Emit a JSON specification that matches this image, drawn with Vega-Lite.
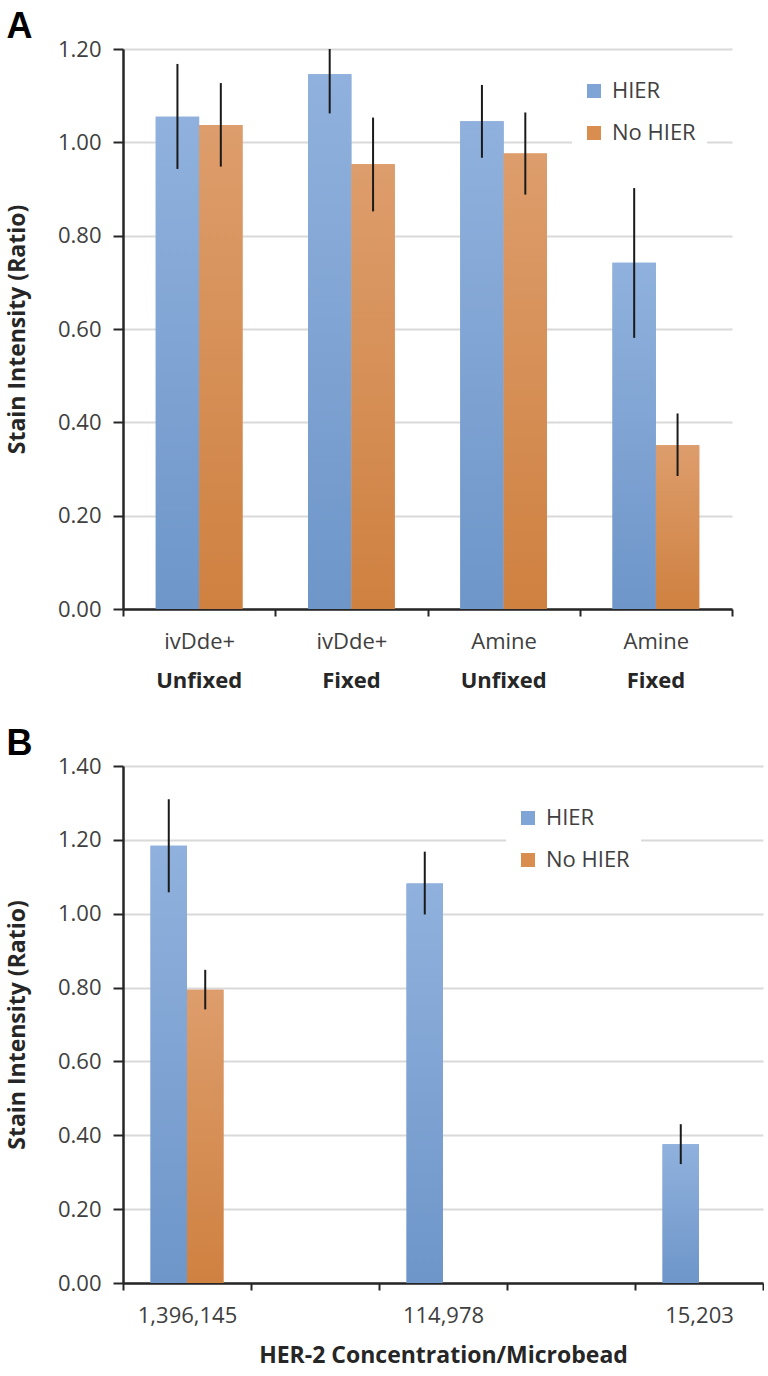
{
  "$schema": "https://vega.github.io/schema/vega-lite/v6.json",
  "background": "white",
  "padding": {"left": 6, "top": 9, "right": 0, "bottom": 0},
  "config": {
    "view": {"stroke": null},
    "font": "Open Sans",
    "axis": {
      "labelFont": "Open Sans", "labelFontSize": 22, "labelColor": "#404040",
      "titleFont": "Open Sans", "titleFontSize": 23, "titleFontWeight": "bold", "titleColor": "#262626",
      "domainColor": "#262626", "domainWidth": 2.5, "tickColor": "#262626", "tickWidth": 2,
      "gridColor": "#d9d9d9", "gridWidth": 2
    },
    "legend": {
      "orient": "none", "title": null, "fillColor": "white", "padding": 11,
      "symbolType": "square", "symbolSize": 196, "symbolStrokeWidth": 0,
      "labelFont": "Open Sans", "labelFontSize": 22, "labelColor": "#404040",
      "labelOffset": 7, "rowPadding": 20
    },
    "title": {"anchor": "start", "frame": "bounds", "font": "Liberation Sans", "fontSize": 36, "fontWeight": "bold", "color": "#000000", "offset": -8}
  },
  "columns": 1,
  "spacing": 35,
  "resolve": {"scale": {"color": "independent", "xOffset": "independent"}, "legend": {"color": "independent"}},
  "concat": [
    {
      "title": {"text": "A"},
      "width": 609,
      "height": 560,
      "data": {"values": [
        {"group": "ivDde+|Unfixed", "series": "HIER", "value": 1.055, "lo": 0.943, "hi": 1.168},
        {"group": "ivDde+|Unfixed", "series": "No HIER", "value": 1.037, "lo": 0.948, "hi": 1.127},
        {"group": "ivDde+|Fixed", "series": "HIER", "value": 1.146, "lo": 1.062, "hi": 1.2},
        {"group": "ivDde+|Fixed", "series": "No HIER", "value": 0.953, "lo": 0.852, "hi": 1.053},
        {"group": "Amine|Unfixed", "series": "HIER", "value": 1.045, "lo": 0.967, "hi": 1.123},
        {"group": "Amine|Unfixed", "series": "No HIER", "value": 0.976, "lo": 0.888, "hi": 1.064},
        {"group": "Amine|Fixed", "series": "HIER", "value": 0.742, "lo": 0.581, "hi": 0.902},
        {"group": "Amine|Fixed", "series": "No HIER", "value": 0.351, "lo": 0.285, "hi": 0.419}
      ]},
      "layer": [
        {
          "mark": {"type": "bar"},
          "encoding": {
            "x": {"field": "group", "type": "nominal",
              "scale": {"domain": ["ivDde+|Unfixed", "ivDde+|Fixed", "Amine|Unfixed", "Amine|Fixed"], "paddingInner": 0, "paddingOuter": 0},
              "axis": {"title": null, "labelExpr": "split(datum.label, '|')[0]", "labelAngle": 0, "tickBand": "extent", "tickSize": 7, "labelPadding": 15, "grid": false}},
            "xOffset": {"field": "series", "type": "nominal", "scale": {"domain": ["HIER", "No HIER"], "paddingInner": 0, "paddingOuter": 0.755}},
            "y": {"field": "value", "type": "quantitative", "scale": {"domain": [0, 1.2]},
              "axis": {"title": "Stain Intensity (Ratio)", "values": [0, 0.2, 0.4, 0.6, 0.8, 1.0, 1.2], "format": ".2f", "tickSize": 10, "labelPadding": 12, "titlePadding": 28, "grid": true}},
            "color": {"field": "series", "type": "nominal",
              "scale": {"domain": ["HIER", "No HIER"], "range": ["#7fa4d6", "#d98d4f"]},
              "legend": {"legendX": 449, "legendY": 20}}
          }
        },
        {
          "transform": [{"filter": "datum.series === 'HIER'"}],
          "mark": {"type": "bar", "color": {"gradient": "linear", "x1": 0, "y1": 0, "x2": 0, "y2": 1, "stops": [{"offset": 0, "color": "#90b1dd"}, {"offset": 1, "color": "#6e96c9"}]}},
          "encoding": {
            "x": {"field": "group", "type": "nominal", "axis": null},
            "xOffset": {"field": "series", "type": "nominal"},
            "y": {"field": "value", "type": "quantitative"}
          }
        },
        {
          "transform": [{"filter": "datum.series === 'No HIER'"}],
          "mark": {"type": "bar", "color": {"gradient": "linear", "x1": 0, "y1": 0, "x2": 0, "y2": 1, "stops": [{"offset": 0, "color": "#dd9d6c"}, {"offset": 1, "color": "#cf8140"}]}},
          "encoding": {
            "x": {"field": "group", "type": "nominal", "axis": null},
            "xOffset": {"field": "series", "type": "nominal"},
            "y": {"field": "value", "type": "quantitative"}
          }
        },
        {
          "mark": {"type": "rule", "color": "#1a1a1a", "strokeWidth": 2},
          "encoding": {
            "x": {"field": "group", "type": "nominal",
              "axis": {"title": null, "orient": "bottom", "labelExpr": "split(datum.label, '|')[1]", "labelFontWeight": "bold", "labelColor": "#262626", "labelAngle": 0, "domain": false, "ticks": false, "tickSize": 0, "offset": 46, "labelPadding": 15, "grid": false}},
            "xOffset": {"field": "series", "type": "nominal"},
            "y": {"field": "lo", "type": "quantitative", "axis": {"title": "Stain Intensity (Ratio)"}},
            "y2": {"field": "hi"}
          }
        }
      ],
      "resolve": {"axis": {"x": "independent"}}
    },
    {
      "title": {"text": "B"},
      "width": 640,
      "height": 517,
      "data": {"values": [
        {"conc": "1,396,145", "series": "HIER", "value": 1.184, "lo": 1.058, "hi": 1.31},
        {"conc": "1,396,145", "series": "No HIER", "value": 0.794, "lo": 0.741, "hi": 0.848},
        {"conc": "114,978", "series": "HIER", "value": 1.082, "lo": 0.998, "hi": 1.168},
        {"conc": "15,203", "series": "HIER", "value": 0.376, "lo": 0.322, "hi": 0.43}
      ]},
      "layer": [
        {
          "mark": {"type": "bar"},
          "encoding": {
            "x": {"field": "conc", "type": "nominal",
              "scale": {"domain": ["1,396,145", "gap1", "114,978", "gap2", "15,203"], "paddingInner": 0, "paddingOuter": 0},
              "axis": {"title": "HER-2 Concentration/Microbead", "labelExpr": "indexof(datum.label, 'gap') === 0 ? '' : datum.label", "labelAngle": 0, "tickBand": "extent", "tickSize": 7, "labelPadding": 15, "titlePadding": 18, "grid": false}},
            "xOffset": {"field": "series", "type": "nominal", "scale": {"domain": ["HIER", "No HIER"], "paddingInner": 0, "paddingOuter": 0.755}},
            "y": {"field": "value", "type": "quantitative", "scale": {"domain": [0, 1.4]},
              "axis": {"title": "Stain Intensity (Ratio)", "values": [0, 0.2, 0.4, 0.6, 0.8, 1.0, 1.2, 1.4], "format": ".2f", "tickSize": 10, "labelPadding": 12, "titlePadding": 28, "grid": true}},
            "color": {"field": "series", "type": "nominal",
              "scale": {"domain": ["HIER", "No HIER"], "range": ["#7fa4d6", "#d98d4f"]},
              "legend": {"legendX": 383, "legendY": 30}}
          }
        },
        {
          "transform": [{"filter": "datum.series === 'HIER'"}],
          "mark": {"type": "bar", "color": {"gradient": "linear", "x1": 0, "y1": 0, "x2": 0, "y2": 1, "stops": [{"offset": 0, "color": "#90b1dd"}, {"offset": 1, "color": "#6e96c9"}]}},
          "encoding": {
            "x": {"field": "conc", "type": "nominal"},
            "xOffset": {"field": "series", "type": "nominal"},
            "y": {"field": "value", "type": "quantitative"}
          }
        },
        {
          "transform": [{"filter": "datum.series === 'No HIER'"}],
          "mark": {"type": "bar", "color": {"gradient": "linear", "x1": 0, "y1": 0, "x2": 0, "y2": 1, "stops": [{"offset": 0, "color": "#dd9d6c"}, {"offset": 1, "color": "#cf8140"}]}},
          "encoding": {
            "x": {"field": "conc", "type": "nominal"},
            "xOffset": {"field": "series", "type": "nominal"},
            "y": {"field": "value", "type": "quantitative"}
          }
        },
        {
          "mark": {"type": "rule", "color": "#1a1a1a", "strokeWidth": 2},
          "encoding": {
            "x": {"field": "conc", "type": "nominal"},
            "xOffset": {"field": "series", "type": "nominal"},
            "y": {"field": "lo", "type": "quantitative", "axis": {"title": "Stain Intensity (Ratio)"}},
            "y2": {"field": "hi"}
          }
        }
      ]
    }
  ]
}
